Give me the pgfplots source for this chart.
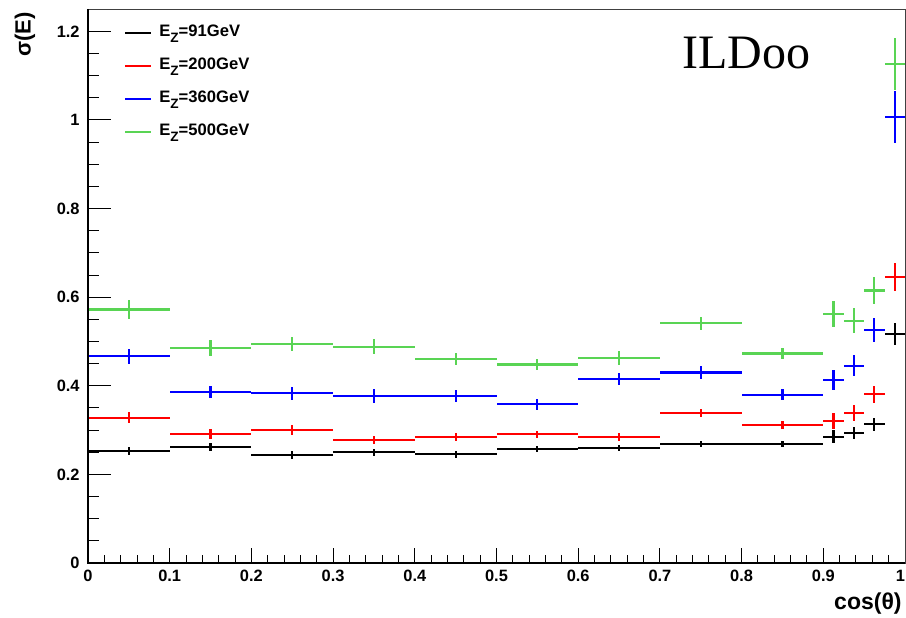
\documentclass[border=0pt]{standalone}
\usepackage{pgfplots}
\usepackage{pgfplotstable}
\pgfplotsset{compat=1.18}
\usepackage{fontspec}
\setmainfont{Liberation Sans}
\newfontfamily\titlefont{Liberation Serif}
\definecolor{rgreen}{RGB}{89,212,84}

\pgfplotstableread{
x y ex ey
0.05 0.2528 0.05 0.008
0.15 0.2626 0.05 0.0087
0.25 0.2445 0.05 0.0087
0.35 0.2498 0.05 0.0075
0.45 0.2453 0.05 0.0075
0.55 0.2580 0.05 0.007
0.65 0.2588 0.05 0.007
0.75 0.2693 0.05 0.0068
0.85 0.2693 0.05 0.0068
0.9125 0.285 0.0125 0.015
0.9375 0.293 0.0125 0.014
0.9625 0.313 0.0125 0.014
0.9875 0.516 0.0125 0.025
}\blackdata
\pgfplotstableread{
x y ex ey
0.05 0.328 0.05 0.012
0.15 0.2905 0.05 0.011
0.25 0.2995 0.05 0.011
0.35 0.2777 0.05 0.010
0.45 0.285 0.05 0.0095
0.55 0.2905 0.05 0.008
0.65 0.2844 0.05 0.008
0.75 0.339 0.05 0.0095
0.85 0.3115 0.05 0.009
0.9125 0.321 0.0125 0.018
0.9375 0.338 0.0125 0.018
0.9625 0.381 0.0125 0.019
0.9875 0.645 0.0125 0.032
}\reddata
\pgfplotstableread{
x y ex ey
0.05 0.4665 0.05 0.017
0.15 0.386 0.05 0.014
0.25 0.383 0.05 0.015
0.35 0.377 0.05 0.015
0.45 0.377 0.05 0.013
0.55 0.358 0.05 0.012
0.65 0.415 0.05 0.014
0.75 0.430 0.05 0.014
0.85 0.380 0.05 0.013
0.9125 0.413 0.0125 0.023
0.9375 0.445 0.0125 0.024
0.9625 0.526 0.0125 0.027
0.9875 1.007 0.0125 0.058
}\bluedata
\pgfplotstableread{
x y ex ey
0.05 0.572 0.05 0.021
0.15 0.485 0.05 0.018
0.25 0.495 0.05 0.016
0.35 0.488 0.05 0.017
0.45 0.460 0.05 0.014
0.55 0.448 0.05 0.013
0.65 0.463 0.05 0.016
0.75 0.541 0.05 0.015
0.85 0.473 0.05 0.012
0.9125 0.562 0.0125 0.030
0.9375 0.547 0.0125 0.028
0.9625 0.615 0.0125 0.030
0.9875 1.126 0.0125 0.058
}\greendata

\newcommand{\legtxt}[1]{{\fontsize{8.3}{10}\selectfont\bfseries E\raisebox{-0.35em}{\fontsize{6.8}{7}\selectfont Z}=#1GeV}}

\pgfplotsset{
  errplot/.style={draw=none, mark=none, forget plot,
    error bars/.cd, x dir=both, x explicit, y dir=both, y explicit,
    error mark=none, error bar style={line width=1.1pt, solid, draw=#1}},
}

\begin{document}
\begin{tikzpicture}
\begin{axis}[
  at={(0,0)}, anchor=south west,
  scale only axis, width=408.5pt, height=276.9pt,
  xmin=0, xmax=1, ymin=0, ymax=1.25,
  axis line style={line width=0.5pt, black!75},
  xtick={0,0.1,0.2,0.3,0.4,0.5,0.6,0.7,0.8,0.9,1},
  xticklabels={0,0.1,0.2,0.3,0.4,0.5,0.6,0.7,0.8,0.9,\makebox[0pt][r]{1}},
  ytick={0,0.2,...,1.21},
  minor x tick num=4, minor y tick num=3,
  xtick pos=bottom, ytick pos=left,
  tick align=inside,
  tick style={line width=0.5pt, black},
  major tick length=11.3pt, minor tick length=5.3pt,
  x tick style={/pgfplots/major tick length=7.5pt, /pgfplots/minor tick length=4pt},
  /pgf/number format/assume math mode=true,
  xticklabel style={font=\fontsize{8.2}{9}\selectfont\bfseries, inner sep=0pt, yshift=-3.2pt},
  yticklabel style={/pgf/number format/fixed, font=\fontsize{8.2}{9}\selectfont\bfseries, inner sep=0pt, xshift=-4pt},
  legend cell align=left,
  legend image code/.code={\draw[#1] (0pt,0pt) -- (13pt,0pt);},
  legend style={draw=none, fill=none, at={(rel axis cs:0.044,0.973)}, anchor=north west,
    inner sep=0pt, row sep=8.5pt, column sep=3.5pt,
    nodes={inner sep=0pt, text height=6.2pt, text depth=1.8pt}},
]
\addlegendimage{black, line width=1pt}
\addlegendentry{\legtxt{91}}
\addlegendimage{red, line width=1pt}
\addlegendentry{\legtxt{200}}
\addlegendimage{blue, line width=1pt}
\addlegendentry{\legtxt{360}}
\addlegendimage{rgreen, line width=1pt}
\addlegendentry{\legtxt{500}}

\addplot[errplot=black] table[x=x, y=y, x error=ex, y error=ey] {\blackdata};
\addplot[errplot=red] table[x=x, y=y, x error=ex, y error=ey] {\reddata};
\addplot[errplot=blue] table[x=x, y=y, x error=ex, y error=ey] {\bluedata};
\addplot[errplot=rgreen] table[x=x, y=y, x error=ex, y error=ey] {\greendata};
\end{axis}
\draw[line width=1pt, black] (0pt,276.9pt) -- (0pt,0pt) -- (408.5pt,0pt);
\node[anchor=base west, inner sep=0pt] at (296.9pt,247pt) {\titlefont\fontsize{24}{28}\selectfont ILDoo};
\node[rotate=90, anchor=east, inner sep=0pt] at (-31.5pt,275.5pt) {\fontsize{11}{13}\selectfont\bfseries σ(E)};
\node[anchor=east, inner sep=0pt] at (407pt,-20.5pt) {\fontsize{11.5}{13}\selectfont\bfseries cos(θ)};
\pgfresetboundingbox
\path[use as bounding box] (-44pt,-27pt) rectangle (409pt,281.5pt);
\end{tikzpicture}
\end{document}
